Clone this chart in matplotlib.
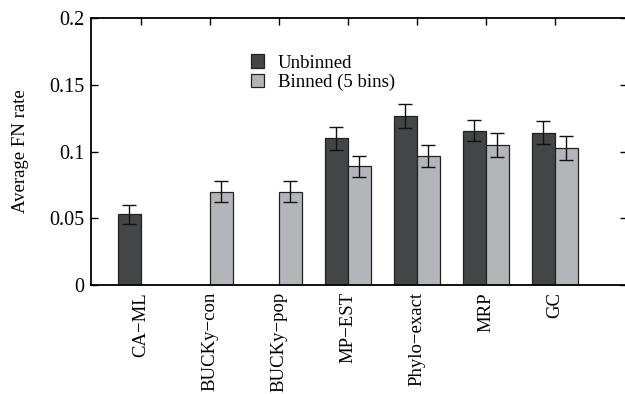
#!/usr/bin/env python3
"""Average FN rate per method, unbinned vs binned (5 bins)."""

import matplotlib
matplotlib.use("Agg")
import matplotlib.pyplot as plt
import numpy as np

# Datos
metodos = ["CA\u2212ML", "BUCKy\u2212con", "BUCKy\u2212pop", "MP\u2212EST",
           "Phylo\u2212exact", "MRP", "GC"]
sin_bins = [0.053, np.nan, np.nan, 0.110, 0.1265, 0.1155, 0.114]
sin_bins_err = [0.007, 0, 0, 0.0085, 0.009, 0.008, 0.0086]
con_bins = [np.nan, 0.070, 0.070, 0.089, 0.0965, 0.105, 0.1025]
con_bins_err = [0, 0.0077, 0.0077, 0.008, 0.0083, 0.009, 0.009]
yticks = [0, 0.05, 0.1, 0.15, 0.2]
ytick_labels = ["0", "0.05", "0.1", "0.15", "0.2"]


def main():
    plt.rcParams.update({
        "font.family": ["Liberation Serif", "DejaVu Serif"],
        "font.size": 13.5,
        "axes.linewidth": 1.3,
    })

    fig = plt.figure(figsize=(6.25, 3.94), dpi=100)
    ax = fig.add_axes([0.1456, 0.2766, 0.8574, 0.6777])

    x = np.arange(len(metodos))
    ancho = 0.335
    oscuro = "#434547"
    claro = "#b4b5b9"
    err_kw = dict(ecolor="#111111", elinewidth=1.0, capsize=5, capthick=1.0)

    ax.bar(x - ancho / 2, sin_bins, ancho, yerr=sin_bins_err, color=oscuro,
           edgecolor="#222222", linewidth=0.9, error_kw=err_kw,
           label="Unbinned")
    ax.bar(x + ancho / 2, con_bins, ancho, yerr=con_bins_err, color=claro,
           edgecolor="#222222", linewidth=0.9, error_kw=err_kw,
           label="Binned (5 bins)")

    ax.set_xlim(-0.721, 7.044)
    ax.set_ylim(0, 0.2)
    ax.set_yticks(yticks)
    ax.set_yticklabels(ytick_labels, fontsize=14.5)
    ax.set_xticks(x)
    ax.set_xticklabels(metodos, rotation=90)
    ax.tick_params(axis="x", bottom=False, top=True, direction="in",
                   length=5, width=1, labelbottom=True, pad=5)
    ax.tick_params(axis="y", left=True, right=True, direction="in",
                   length=5, width=1, pad=5)
    ax.set_ylabel("Average FN rate", labelpad=14)

    ax.legend(loc="upper left", bbox_to_anchor=(0.381, 0.895),
              bbox_transform=fig.transFigure, frameon=False,
              handlelength=0.7, handleheight=0.7, handletextpad=0.7,
              labelspacing=0.12, borderpad=0.2)

    fig.savefig("out.png", dpi=100)


if __name__ == "__main__":
    main()
